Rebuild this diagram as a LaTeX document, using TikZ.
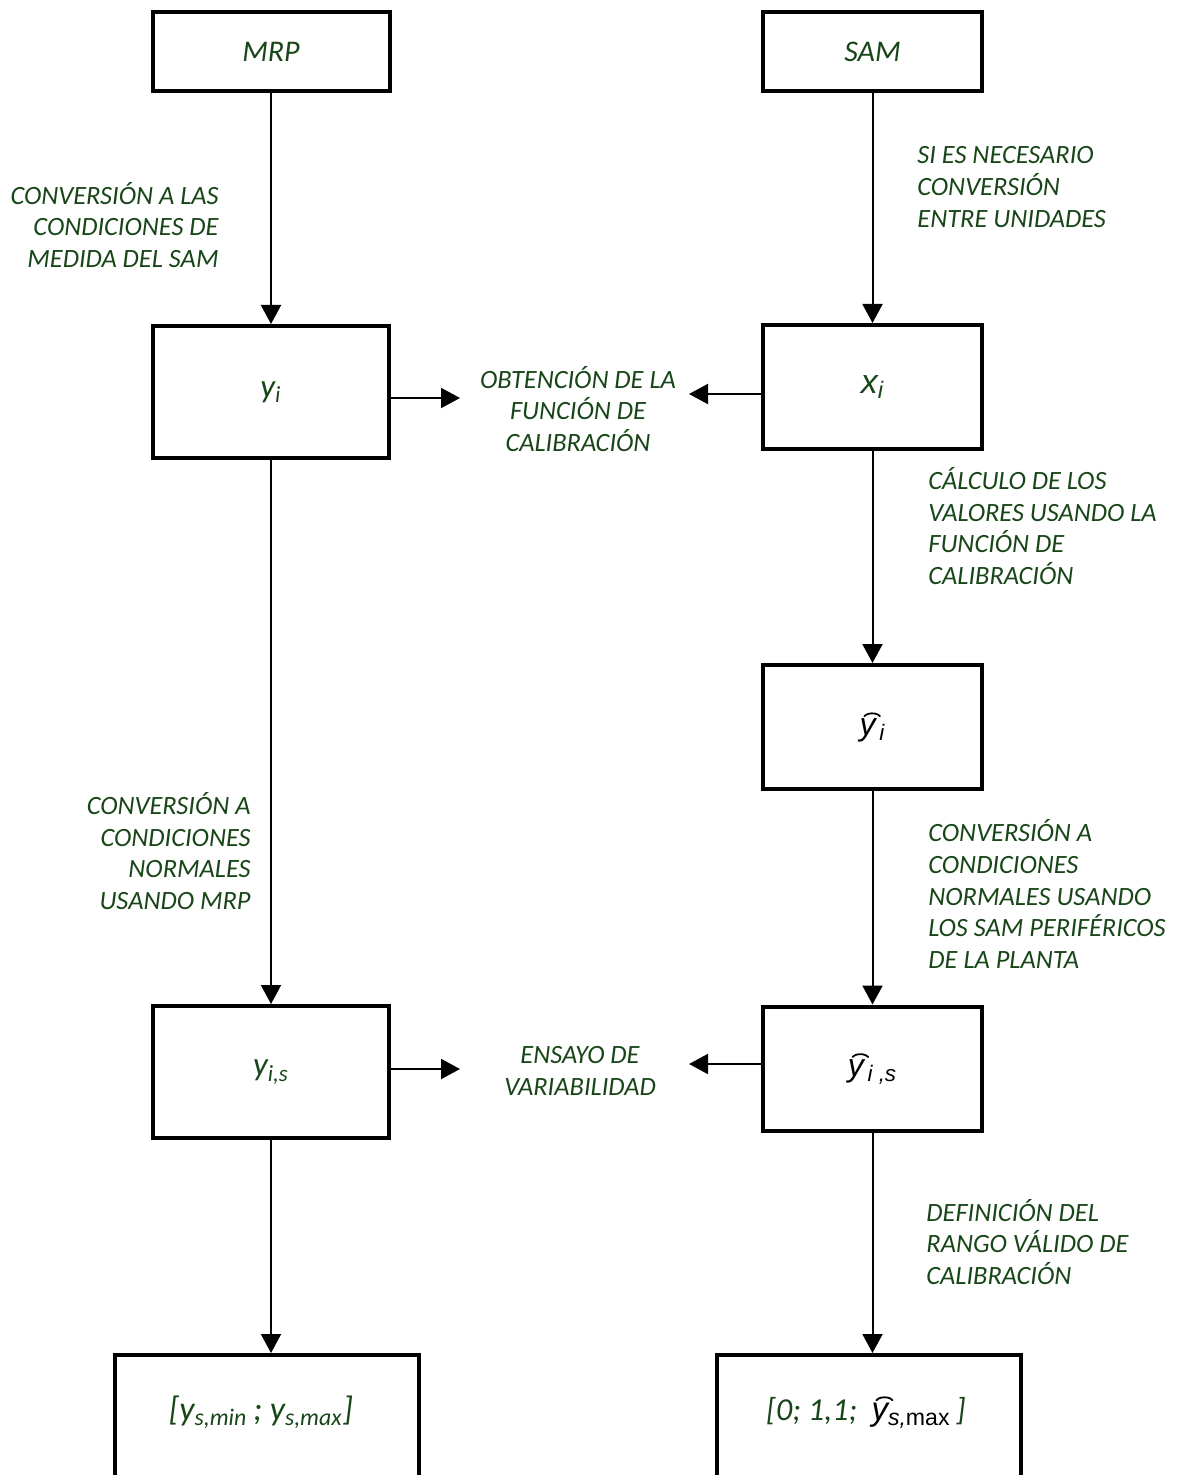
\documentclass[tikz,border=0pt]{standalone}
\usepackage{fontspec}
\setmainfont{Carlito}
\newfontfamily\arialf{Liberation Sans}
\usetikzlibrary{arrows.meta}
\definecolor{dgreen}{RGB}{24,70,24}
\newcommand\lablfont{\fontsize{13.2}{15.9}\selectfont\itshape}
\newcommand\boxfont{\fontsize{15}{18}\selectfont\itshape}
\newcommand\harc{\tikz[baseline=0pt,x=1em,y=1em]{\draw[color=black,line width=0.055em,line cap=round] (0,0) arc[start angle=160,end angle=20,x radius=0.26em,y radius=0.14em];}}
\newcommand\haty{\leavevmode\rlap{\raisebox{0.6em}{\kern0.12em\harc}}y}
\begin{document}
\begin{tikzpicture}[x=0.5pt,y=-0.5pt,
  box/.style={draw=black, line width=2pt, fill=white, inner sep=0pt, text=dgreen, font=\boxfont},
  lbox/.style={box, minimum width=118pt, minimum height=66pt},
  rbox/.style={box, minimum width=109.5pt, minimum height=62pt},
  bbox/.style={box, minimum width=152pt, minimum height=70pt, anchor=north},
  lab/.style={text=dgreen, font=\lablfont, inner sep=0pt},
  arr/.style={line width=1pt, -{Triangle[length=9.5pt,width=10pt]}}]
\useasboundingbox (0,0) rectangle (1179,1475);
\clip (0,0) rectangle (1179,1475);
\fill[white] (0,0) rectangle (1179,1475);

% boxes
\node[box, minimum width=118.5pt, minimum height=39.5pt] (mrp) at (271,51.5) {MRP};
\node[box, minimum width=109.5pt, minimum height=39.5pt] (sam) at (872.5,51.5) {SAM};
\node[lbox] (yi) at (271,392) {\fontsize{16.5}{19}\selectfont y\textsubscript{i}};
\node[rbox] (xi) at (872.5,387) {\arialf\fontsize{17}{19}\selectfont\itshape x\textsubscript{i}};
\node[rbox] (yhi) at (872.5,727) {\color{black}\arialf\fontsize{16}{19}\selectfont\itshape\haty\textsubscript{\,i}};
\node[lbox] (yis) at (271,1072) {\fontsize{16.5}{19}\selectfont y\textsubscript{i,s}};
\node[rbox] (yhis) at (872.5,1068.5) {\color{black}\arialf\fontsize{16}{19}\selectfont\itshape\haty\textsubscript{\,i ,s}};
\node[bbox] (bl) at (267,1353) {};
\node[bbox] (br) at (869,1353) {};
\node[text=dgreen, font=\boxfont, inner sep=0pt] (blt) at (261,1412) {\fontsize{17}{20}\selectfont[y\textsubscript{s,min}\,; y\textsubscript{s,max}]};
\node[text=dgreen, font=\boxfont, inner sep=0pt] (brt) at (866,1412) {\fontsize{16}{19}\selectfont[0; 1,1;\ \ {\color{black}\arialf\fontsize{16.5}{19}\selectfont\itshape\haty\textsubscript{s,\upshape max}}\,]};

% labels
\node[lab, align=right, anchor=east] (l1) at (219,225) {CONVERSIÓN A LAS\\CONDICIONES DE\\MEDIDA DEL SAM};
\node[lab, align=left, anchor=west] (l2) at (917,187) {SI ES NECESARIO\\CONVERSIÓN\\ENTRE UNIDADES};
\node[lab, align=center] (l3) at (578,409) {OBTENCIÓN DE LA\\FUNCIÓN DE\\CALIBRACIÓN};
\node[lab, align=left, anchor=west] (l4) at (928,526) {CÁLCULO DE LOS\\VALORES USANDO LA\\FUNCIÓN DE\\CALIBRACIÓN};
\node[lab, align=right, anchor=east] (l5) at (251,851) {CONVERSIÓN A\\CONDICIONES\\NORMALES\\USANDO MRP};
\node[lab, align=left, anchor=west] (l6) at (928,894) {CONVERSIÓN A\\CONDICIONES\\NORMALES USANDO\\LOS SAM PERIFÉRICOS\\DE LA PLANTA};
\node[lab, align=center] (l7) at (580,1071) {ENSAYO DE\\VARIABILIDAD};
\node[lab, align=left, anchor=west] (l8) at (926,1242) {DEFINICIÓN DEL\\RANGO VÁLIDO DE\\CALIBRACIÓN};

% vertical arrows
\draw[arr] (mrp.south) -- (yi.north);
\draw[arr] (sam.south) -- (xi.north);
\draw[arr] (yi.south) -- (yis.north);
\draw[arr] (xi.south) -- (yhi.north);
\draw[arr] (yhi.south) -- (yhis.north);
\draw[arr] (yis.south) -- (yis.south |- bl.north);
\draw[arr] (yhis.south) -- (yhis.south |- br.north);

% horizontal arrows
\coordinate (t1) at (460,398);
\coordinate (t2) at (689,394);
\coordinate (t3) at (460,1069);
\coordinate (t4) at (689,1064);
\draw[arr] (yi.east |- t1) -- (t1);
\draw[arr] (xi.west |- t2) -- (t2);
\draw[arr] (yis.east |- t3) -- (t3);
\draw[arr] (yhis.west |- t4) -- (t4);
\end{tikzpicture}
\end{document}
